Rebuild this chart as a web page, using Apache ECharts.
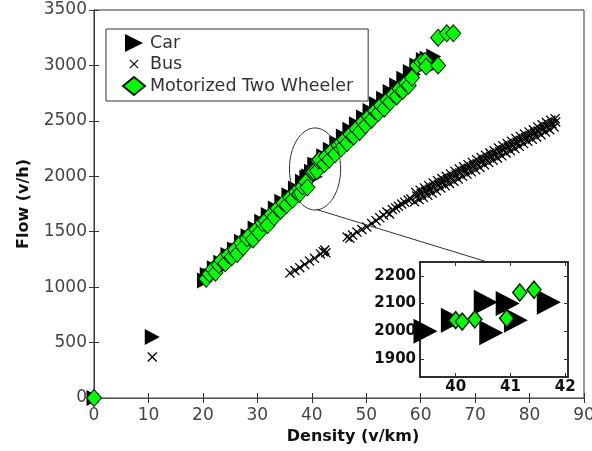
<!DOCTYPE html>
<html><head><meta charset="utf-8">
<script src="https://cdn.jsdelivr.net/npm/echarts@6/dist/echarts.min.js"></script>
<style>html,body{margin:0;padding:0;background:#fff}#c{width:592px;height:451px}</style>
</head><body><div id="c"></div>
<script>
// ---------- data (density v/km, flow v/h) ----------
const seriesNames = ['Car', 'Bus', 'Motorized Two Wheeler'];

const carData = [
  [0,0],[10.7,550],
  [20.3,1060],[20.8,1110],[21.5,1100],[22.1,1170],[22.6,1150],[23.3,1220],[23.9,1200],[24.6,1290],
  [25.1,1260],[25.8,1340],[26.4,1330],[27.1,1410],[27.6,1380],[28.3,1460],[28.9,1440],[29.6,1530],
  [30.1,1500],[30.8,1590],[31.4,1570],[32,1650],[32.6,1620],[33.3,1710],[33.8,1690],[34.5,1770],
  [35.1,1750],[35.8,1830],[36.4,1810],[37,1890],[37.6,1870],[38.3,1950],[38.8,1930],[39.1,1990],
  [39.45,2000],[39.95,2040],[40.55,2105],[40.65,1995],[40.95,2100],[41.1,2040],[41.7,2105],
  [42.2,2180],[42.7,2150],[43.4,2240],[43.9,2210],[44.6,2300],[45.1,2270],[45.8,2360],[46.3,2330],
  [47,2420],[47.6,2390],[48.2,2470],[48.8,2450],[49.5,2530],[50,2500],[50.7,2590],[51.3,2560],
  [51.9,2650],[52.5,2620],[53.2,2700],[53.7,2680],[54.4,2760],[55,2740],[55.6,2820],[56.2,2800],
  [56.9,2880],[57.4,2860],[58.1,2940],[58.7,2920],[59.3,3000],[59.9,2980],[60.5,3050],[61.2,3060],
  [61.8,3040],[62.4,3080],[62.9,3010]
];

const busData = [
  [0,0],[10.7,370],
  [36,1128],[36.9,1150],[37.8,1175],[38.7,1205],[39.6,1235],[40.5,1260],[41.6,1300],[42.1,1320],
  [42.4,1335],[42.6,1310],[46.5,1452],[47,1440],[47.5,1470],[48.3,1497],[49.2,1520],[50.1,1542],
  [51,1575],[51.8,1600],[52.5,1625],[53.2,1650],[53.8,1678],[54.3,1660],[54.8,1700],[55.4,1715],
  [55.9,1730],[56.5,1750],[57.1,1765],[57.7,1785],[58.2,1795],
  [58.9,1770],[59.1,1855],[59.7,1790],[59.9,1875],[60.5,1810],[60.7,1895],[61.3,1830],[61.5,1915],
  [62.1,1850],[62.3,1940],[62.9,1870],[63.1,1960],[63.7,1895],[63.9,1980],[64.5,1915],[64.7,2000],
  [65.3,1935],[65.5,2020],[66.1,1955],[66.3,2045],[66.9,1975],[67.1,2065],[67.7,2000],[67.9,2085],
  [68.5,2020],[68.7,2105],[69.3,2040],[69.5,2125],[70.1,2060],[70.3,2150],[70.9,2080],[71.1,2170],
  [71.7,2105],[71.9,2190],[72.5,2125],[72.7,2210],[73.3,2145],[73.5,2230],[74.1,2165],[74.3,2255],
  [74.9,2185],[75.1,2275],[75.7,2210],[75.9,2295],[76.5,2230],[76.7,2315],[77.3,2250],[77.5,2340],
  [78.1,2270],[78.3,2360],[78.9,2295],[79.1,2380],[79.7,2315],[79.9,2400],[80.5,2335],[80.7,2420],
  [81.3,2355],[81.5,2445],[82.1,2375],[82.3,2465],[82.9,2400],[83.1,2485],[83.7,2420],[83.9,2505],
  [84.5,2445],[84.7,2520],
  [59.3,1822],[60.9,1864],[62.4,1905],[64,1946],[65.6,1988],[67.2,2030],[68.8,2072],[70.4,2114],
  [72,2156],[73.6,2198],[75.2,2240],[76.8,2282],[78.4,2324],[80,2366],[81.6,2408],[83.2,2450],
  [84.8,2490],
  [60.1,1843],[61.7,1885],[63.3,1927],[64.9,1970],[66.5,2012],[68.1,2054],[69.7,2096],[71.3,2138],
  [72.9,2180],[74.5,2222],[76.1,2264],[77.7,2306],[79.3,2348],[80.9,2390],[82.5,2432],[84.1,2475]
];

const mtwData = [
  [0,0],
  [20.6,1075],[21.2,1120],[21.8,1160],[22.3,1130],[22.9,1200],[23.4,1240],[24.1,1215],[24.7,1290],
  [25.3,1270],[25.9,1340],[26.3,1300],[27,1400],[27.4,1360],[28.1,1440],[28.6,1470],[29.2,1430],
  [29.8,1520],[30.3,1490],[30.9,1580],[31.5,1600],[31.9,1560],[32.6,1660],[33.1,1630],[33.7,1710],
  [34.3,1690],[34.8,1760],[35.4,1740],[36,1810],[36.5,1790],[37.1,1860],[37.7,1840],[38.3,1910],
  [38.9,1950],[39.2,1900],
  [40.0,2040],[40.12,2035],[40.35,2043],[40.93,2047],[41.17,2140],[41.43,2150],
  [42.3,2110],[42.6,2180],[43.2,2150],[43.7,2230],[44.3,2200],[44.9,2280],[45.4,2250],[46,2330],
  [46.5,2300],[47.1,2380],[47.7,2360],[48.2,2430],[48.8,2400],[49.4,2490],[49.9,2460],[50.5,2540],
  [51,2510],[51.6,2590],[52.2,2570],[52.7,2640],[53.3,2610],[53.9,2690],[54.4,2670],[55,2740],
  [55.6,2720],[56.1,2790],[56.7,2770],[57.3,2840],[57.8,2820],[58.4,2890],
  [59.3,3000],[60.1,3030],[60.8,3040],[61,2990],[63.2,3000],[63.2,3250],[64.8,3290],[66,3290]
];

// axes
const mainXRange = [0, 90], mainXStep = 10;
const mainYRange = [0, 3500], mainYStep = 500;
const insetXRange = [39.35, 42.05];
const insetYRange = [1835, 2250];
const insetXTicks = [40, 41, 42];
const insetYTicks = [1900, 2000, 2100, 2200];
// zoom ellipse (data units of main axes)
const zoomCenter = [40.6, 2066];
const zoomRadius = [4.7, 370];
const zoomLineStart = [40.9, 1700];
const zoomLineEndX = 40.58;

// ---------- styles ----------
const TRI = 'path://M0,0L1,0.5L0,1Z';
const XSYM = 'path://M0,0.09L0.09,0L0.5,0.41L0.91,0L1,0.09L0.59,0.5L1,0.91L0.91,1L0.5,0.59L0.09,1L0,0.91L0.41,0.5Z';
const XLEG = 'path://M0,0M18,18M4.5,5.3L5.3,4.5L9,8.2L12.7,4.5L13.5,5.3L9.8,9L13.5,12.7L12.7,13.5L9,9.8L5.3,13.5L4.5,12.7L8.2,9Z';
const FONT = 'DejaVu Sans';
const GREEN = '#00ff00';
const plain = v => String(v);

const chart = echarts.init(document.getElementById('c'), null, {renderer: 'canvas'});

const tickLbl = {fontFamily: FONT, fontSize: 17, color: '#444', formatter: plain};
const insetLbl = {fontFamily: FONT, fontSize: 15, fontWeight: 'bold', color: '#111', formatter: plain};

const option = {
  animation: false,
  backgroundColor: '#fff',
  grid: [
    {left: 94, top: 10, width: 490, height: 388, show: true, borderColor: '#333', borderWidth: 1, backgroundColor: 'transparent', outerBoundsMode: 'none'},
    {left: 420, top: 262, width: 148, height: 115, show: true, borderColor: '#222', borderWidth: 1.5, backgroundColor: '#fff', outerBoundsMode: 'none', z: 3}
  ],
  xAxis: [
    {gridIndex: 0, type: 'value', min: mainXRange[0], max: mainXRange[1], interval: mainXStep, position: 'bottom',
     name: 'Density (v/km)', nameLocation: 'middle', nameGap: 30,
     nameTextStyle: {fontFamily: FONT, fontSize: 16, fontWeight: 'bold', color: '#111', padding: [0, 0, 0, 28]},
     axisLine: {show: true, lineStyle: {color: '#333', width: 1}}, axisTick: {inside: true, length: 5, lineStyle: {color: '#333'}},
     axisLabel: Object.assign({margin: 9}, tickLbl), splitLine: {show: false}},
    {gridIndex: 0, type: 'value', min: mainXRange[0], max: mainXRange[1], interval: mainXStep, position: 'top',
     axisLine: {show: true, lineStyle: {color: '#555'}}, axisTick: {inside: true, length: 5, lineStyle: {color: '#333'}},
     axisLabel: {show: false}, splitLine: {show: false}},
    {gridIndex: 1, type: 'value', min: insetXRange[0], max: insetXRange[1], position: 'bottom',
     axisLine: {show: true, lineStyle: {color: '#222', width: 1.5}},
     axisTick: {inside: true, length: 4, customValues: insetXTicks, lineStyle: {color: '#333'}},
     axisLabel: Object.assign({margin: 3, customValues: insetXTicks}, insetLbl), splitLine: {show: false}, z: 4},
    {gridIndex: 1, type: 'value', min: insetXRange[0], max: insetXRange[1], position: 'top',
     axisLine: {show: true, lineStyle: {color: '#222', width: 1.5}},
     axisTick: {inside: true, length: 4, customValues: insetXTicks, lineStyle: {color: '#333'}},
     axisLabel: {show: false}, splitLine: {show: false}, z: 4}
  ],
  yAxis: [
    {gridIndex: 0, type: 'value', min: mainYRange[0], max: mainYRange[1], interval: mainYStep, position: 'left',
     name: 'Flow (v/h)', nameLocation: 'middle', nameGap: 62,
     nameTextStyle: {fontFamily: FONT, fontSize: 16, fontWeight: 'bold', color: '#111'},
     axisLine: {show: true, lineStyle: {color: '#333', width: 1}}, axisTick: {inside: true, length: 5, lineStyle: {color: '#333'}},
     axisLabel: Object.assign({margin: 7}, tickLbl), splitLine: {show: false}},
    {gridIndex: 0, type: 'value', min: mainYRange[0], max: mainYRange[1], interval: mainYStep, position: 'right',
     axisLine: {show: true, lineStyle: {color: '#333'}}, axisTick: {inside: true, length: 5, lineStyle: {color: '#333'}},
     axisLabel: {show: false}, splitLine: {show: false}},
    {gridIndex: 1, type: 'value', min: insetYRange[0], max: insetYRange[1], position: 'left',
     axisLine: {show: true, lineStyle: {color: '#222', width: 1.5}},
     axisTick: {inside: true, length: 4, customValues: insetYTicks, lineStyle: {color: '#333'}},
     axisLabel: Object.assign({margin: 4, customValues: insetYTicks}, insetLbl), splitLine: {show: false}, z: 4},
    {gridIndex: 1, type: 'value', min: insetYRange[0], max: insetYRange[1], position: 'right',
     axisLine: {show: true, lineStyle: {color: '#222', width: 1.5}},
     axisTick: {inside: true, length: 4, customValues: insetYTicks, lineStyle: {color: '#333'}},
     axisLabel: {show: false}, splitLine: {show: false}, z: 4}
  ],
  legend: {
    orient: 'vertical', left: 106, top: 29, padding: [5, 15, 5, 16], itemGap: 3,
    itemWidth: 22, itemHeight: 18, borderColor: '#333', borderWidth: 1, backgroundColor: '#fff',
    textStyle: {fontFamily: FONT, fontSize: 17.5, color: '#333'},
    selectedMode: false,
    data: [
      {name: seriesNames[0], icon: TRI},
      {name: seriesNames[1], icon: XLEG},
      {name: seriesNames[2], icon: 'diamond'}
    ]
  },
  series: [
    {name: seriesNames[0], type: 'scatter', xAxisIndex: 0, yAxisIndex: 0, data: carData, symbol: TRI, symbolSize: [15, 16],
     itemStyle: {color: '#000', opacity: 1}, clip: false, z: 2},
    {name: seriesNames[1], type: 'scatter', xAxisIndex: 0, yAxisIndex: 0, data: busData, symbol: XSYM, symbolSize: 10,
     itemStyle: {color: '#000', opacity: 1}, clip: false, z: 2},
    {name: seriesNames[2], type: 'scatter', xAxisIndex: 0, yAxisIndex: 0, data: mtwData, symbol: 'diamond', symbolSize: [15, 17],
     itemStyle: {color: GREEN, borderColor: '#0a1a0a', borderWidth: 1, opacity: 1}, clip: false, z: 2},
    {name: seriesNames[0], type: 'scatter', xAxisIndex: 2, yAxisIndex: 2, data: carData, symbol: TRI, symbolSize: [24, 25],
     itemStyle: {color: '#000', opacity: 1}, clip: true, z: 5},
    {name: seriesNames[2], type: 'scatter', xAxisIndex: 2, yAxisIndex: 2, data: mtwData, symbol: 'diamond', symbolSize: [14, 17],
     itemStyle: {color: GREEN, borderColor: '#0a1a0a', borderWidth: 1.5, opacity: 1}, clip: true, z: 5}
  ]
};
chart.setOption(option);

// zoom annotation: ellipse + connector, positioned through the axes
const c0 = chart.convertToPixel({gridIndex: 0}, zoomCenter);
const cr = chart.convertToPixel({gridIndex: 0}, [zoomCenter[0] + zoomRadius[0], zoomCenter[1] + zoomRadius[1]]);
const ls = chart.convertToPixel({gridIndex: 0}, zoomLineStart);
const le = chart.convertToPixel({gridIndex: 1}, [zoomLineEndX, insetYRange[1]]);
chart.setOption({
  graphic: [
    {type: 'ellipse', shape: {cx: c0[0], cy: c0[1], rx: cr[0] - c0[0], ry: c0[1] - cr[1]},
     style: {fill: 'none', stroke: '#333', lineWidth: 1}, z: 10, silent: true},
    {type: 'line', shape: {x1: ls[0], y1: ls[1], x2: le[0], y2: le[1]},
     style: {stroke: '#333', lineWidth: 1}, z: 10, silent: true}
  ]
});
</script></body></html>
